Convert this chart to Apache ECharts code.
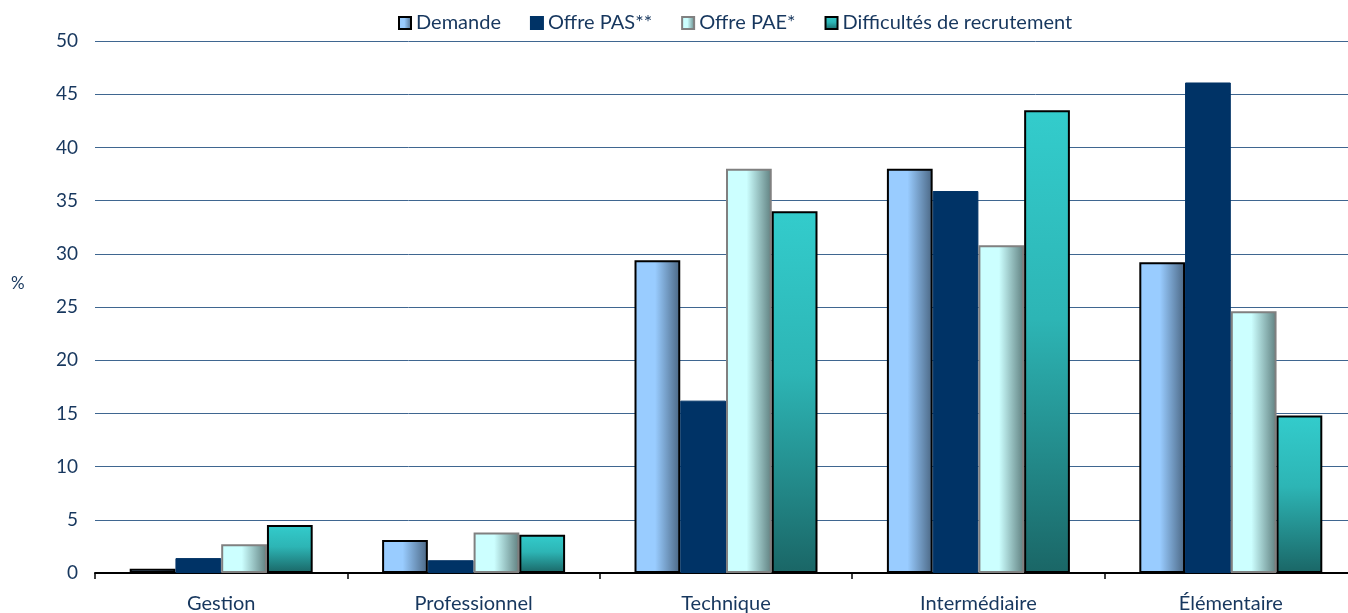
<!DOCTYPE html>
<html>
<head>
<meta charset="utf-8">
<script src="https://cdn.jsdelivr.net/npm/echarts@6/dist/echarts.min.js"></script>
<style>
  html, body { margin: 0; padding: 0; background: #fff; }
  #chart { width: 1348px; height: 613px; }
</style>
</head>
<body>
<div id="chart"></div>
<script>
var categories = ['Gestion', 'Professionnel', 'Technique', 'Intermédiaire', 'Élémentaire']
var seriesNames = ['Demande', 'Offre PAS**', 'Offre PAE*', 'Difficultés de recrutement']
var demande = [0.4, 3.1, 29.4, 38.0, 29.2]
var offrePAS = [1.4, 1.2, 16.2, 35.9, 46.1]
var offrePAE = [2.7, 3.8, 38.0, 30.8, 24.6]
var difficultes = [4.5, 3.6, 34.0, 43.5, 14.8]
var yTicks = { min: 0, max: 50, interval: 5 }

window.onload = function () {
    var chart = echarts.init(document.getElementById('chart'))
    var font = 'Lato'
    var textColor = '#17375e'

    function hGrad(light, dark) {
        return new echarts.graphic.LinearGradient(0, 0, 1, 0, [
            { offset: 0, color: light },
            { offset: 0.45, color: light },
            { offset: 1, color: dark }
        ])
    }

    var styles = [
        { color: hGrad('#99ccff', '#4a6683'), borderColor: '#000000', borderWidth: 2 },
        { color: '#003366', borderColor: '#003366', borderWidth: 1 },
        { color: hGrad('#ccffff', '#5f7f7f'), borderColor: '#808080', borderWidth: 2 },
        {
            color: new echarts.graphic.LinearGradient(0, 0, 0, 1, [
                { offset: 0, color: '#33cccc' },
                { offset: 0.45, color: '#2db5b5' },
                { offset: 1, color: '#1a6666' }
            ]),
            borderColor: '#000000', borderWidth: 2
        }
    ]
    var values = [demande, offrePAS, offrePAE, difficultes]

    var option = {
        animation: false,
        textStyle: { fontFamily: font },
        legend: {
            top: 8,
            left: 393,
            itemWidth: 12,
            itemHeight: 12,
            itemGap: 29,
            icon: 'rect',
            textStyle: { color: textColor, fontSize: 20, fontFamily: font },
            data: seriesNames
        },
        grid: { left: 95, width: 1262, top: 41, bottom: 40, outerBoundsMode: 'none' },
        graphic: [{
            type: 'text',
            left: 11,
            top: 275,
            style: { text: '%', fill: textColor, font: '17px Lato' }
        }],
        xAxis: {
            type: 'category',
            data: categories,
            axisLine: { lineStyle: { color: '#000000', width: 2 } },
            axisTick: { show: true, length: 6, lineStyle: { color: '#000000', width: 1.5 } },
            axisLabel: { color: textColor, fontSize: 20, margin: 21, fontFamily: font }
        },
        yAxis: {
            type: 'value',
            min: yTicks.min,
            max: yTicks.max,
            interval: yTicks.interval,
            axisLine: { show: false },
            axisTick: { show: false },
            axisLabel: { color: textColor, fontSize: 19, margin: 17, fontFamily: font },
            splitLine: { lineStyle: { color: '#3f6690', width: 1 } }
        },
        series: seriesNames.map(function (name, i) {
            return {
                name: name,
                type: 'bar',
                data: values[i],
                barGap: '0%',
                barCategoryGap: '27.5%',
                itemStyle: styles[i]
            }
        })
    }

    chart.setOption(option)
}
</script>
</body>
</html>
